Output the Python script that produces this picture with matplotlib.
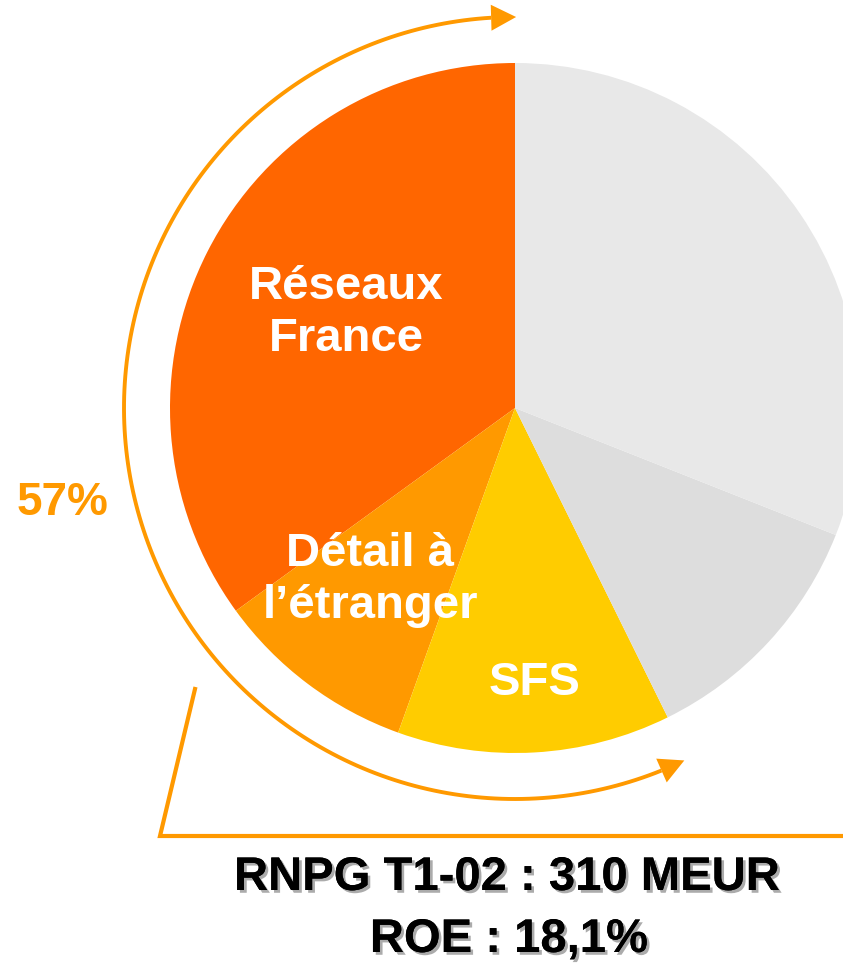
import numpy as np
import matplotlib
matplotlib.use("Agg")
import matplotlib.pyplot as plt
from matplotlib.patches import Polygon
import matplotlib.patheffects as pe

# parts of RNPG (approximate)
segments = ["Réseaux\nFrance", "Détail à\nl’étranger", "SFS", "autre 1", "autre 2"]
shares = [35.0, 9.5, 12.8, 11.7, 31.0]
colors = ["#FF6600", "#FF9900", "#FFCC00", "#DDDDDD", "#E8E8E8"]
total_label = "57%"
footer = ["RNPG T1-02 : 310 MEUR", "ROE : 18,1%"]

W, H = 843, 964
fig = plt.figure(figsize=(W / 100, H / 100), dpi=100)
ax = fig.add_axes([0, 0, 1, 1])

cx, cy, r = 515, H - 408, 345
wedges, _ = ax.pie(shares, colors=colors, startangle=90, counterclock=True,
                   center=(cx, cy), radius=r,
                   wedgeprops=dict(linewidth=0))

font = ["Liberation Sans", "DejaVu Sans"]
lab_pos = [(346, H - 313), (370, H - 580), (535, H - 683)]
for name, (x, y) in zip(segments[:3], lab_pos):
    ax.text(x, y, name, ha="center", va="center", color="white",
            fontsize=34, fontweight="bold", family=font, linespacing=1.22)

# arc with two arrow heads
orange = "#FF9900"
ra = 391
a0, a1 = np.deg2rad(93.5), np.deg2rad(292.0)
t = np.linspace(a0, a1, 200)
ax.plot(cx + ra * np.cos(t), cy + ra * np.sin(t), color=orange, lw=2.8,
        solid_capstyle="butt")


def head(ang, direction, L=25, Wd=26):
    tip_ang = ang + direction * L / ra
    tip = np.array([cx + ra * np.cos(tip_ang), cy + ra * np.sin(tip_ang)])
    base = np.array([cx + ra * np.cos(ang), cy + ra * np.sin(ang)])
    d = (tip - base) / np.linalg.norm(tip - base)
    n = np.array([-d[1], d[0]])
    pts = [tip, base + n * Wd / 2, base - n * Wd / 2]
    ax.add_patch(Polygon(pts, closed=True, color=orange, lw=0))


head(a0, -1)
head(a1, +1)

# bracket
ax.plot([195, 160, W], [H - 689, H - 836, H - 836], color=orange, lw=3,
        solid_joinstyle="miter")

ax.text(63, H - 503, total_label, ha="center", va="center", color=orange,
        fontsize=33, fontweight="bold", family=font)

shadow = [pe.withSimplePatchShadow(offset=(2, -2), shadow_rgbFace="#888888",
                                   alpha=0.7), pe.Normal()]
ax.text(507, H - 878, footer[0], ha="center", va="center", color="black",
        fontsize=34, fontweight="bold", family=font, path_effects=shadow)
ax.text(509, H - 940, footer[1], ha="center", va="center", color="black",
        fontsize=34, fontweight="bold", family=font, path_effects=shadow)

ax.set_xlim(0, W)
ax.set_ylim(0, H)
ax.set_aspect("auto")
ax.axis("off")

fig.savefig("out.png", dpi=100)
